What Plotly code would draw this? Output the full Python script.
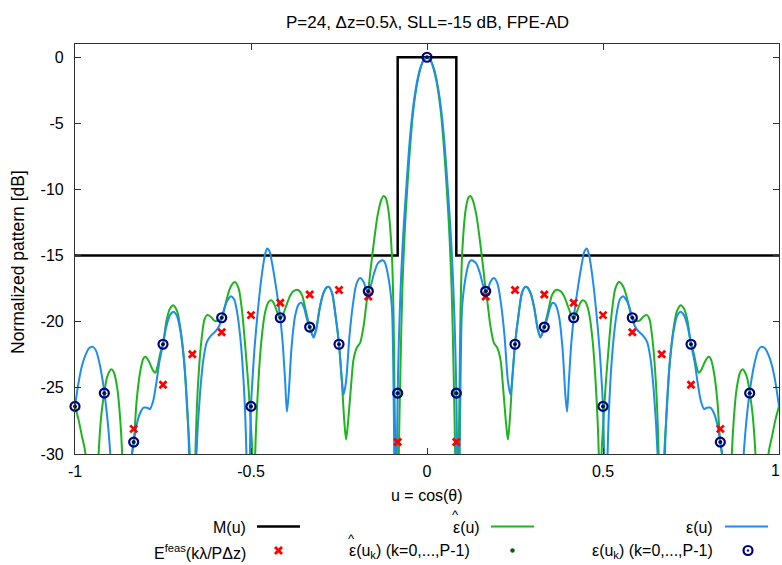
import plotly.graph_objects as go

# ---------------- data ----------------
title_text = "P=24, \u0394z=0.5\u03bb, SLL=-15 dB, FPE-AD"

# Mask M(u)
mask_u = [-1.0, -0.0833, -0.0833, 0.0833, 0.0833, 1.0]
mask_db = [-15, -15, 0, 0, -15, -15]

# epsilon(u)  (blue curve)
blue_u = [
    -1.000, -0.990, -0.980, -0.970, -0.960, -0.949, -0.940, -0.930, -0.920, -0.910,
    -0.900, -0.890, -0.870, -0.850, -0.838, -0.833, -0.825, -0.815, -0.805, -0.795,
    -0.787, -0.778, -0.770, -0.760, -0.750, -0.740, -0.730, -0.720, -0.710, -0.700,
    -0.690, -0.680, -0.676, -0.666, -0.655, -0.645, -0.635, -0.625, -0.612, -0.600,
    -0.590, -0.583, -0.575, -0.565, -0.557, -0.548, -0.540, -0.530, -0.520, -0.513,
    -0.507, -0.503, -0.500, -0.495, -0.490, -0.480, -0.470, -0.460, -0.454, -0.447,
    -0.440, -0.430, -0.417, -0.410, -0.403, -0.398, -0.393, -0.385, -0.375, -0.365,
    -0.357, -0.350, -0.340, -0.333, -0.322, -0.315, -0.305, -0.295, -0.285, -0.279,
    -0.270, -0.260, -0.250, -0.243, -0.237, -0.230, -0.220, -0.210, -0.200, -0.190,
    -0.180, -0.172, -0.167, -0.160, -0.150, -0.140, -0.130, -0.126, -0.120, -0.110,
    -0.100, -0.096, -0.093, -0.088, -0.0855, -0.0833, -0.080, -0.075, -0.070, -0.065,
    -0.060, -0.050, -0.040, -0.030, -0.020, -0.010,
    0.000,
    0.010, 0.020, 0.030, 0.040, 0.050, 0.060, 0.065, 0.070, 0.075, 0.080,
    0.0833, 0.0855, 0.088, 0.093, 0.096, 0.100, 0.110, 0.120, 0.126, 0.130,
    0.140, 0.150, 0.160, 0.167, 0.172, 0.180, 0.190, 0.200, 0.210, 0.220,
    0.230, 0.237, 0.243, 0.250, 0.260, 0.270, 0.279, 0.285, 0.295, 0.305,
    0.315, 0.322, 0.333, 0.340, 0.350, 0.357, 0.365, 0.375, 0.385, 0.393,
    0.398, 0.403, 0.410, 0.417, 0.430, 0.440, 0.447, 0.454, 0.460, 0.470,
    0.480, 0.490, 0.495, 0.500, 0.503, 0.507, 0.513, 0.520, 0.530, 0.540,
    0.548, 0.557, 0.565, 0.575, 0.583, 0.590, 0.600, 0.612, 0.625, 0.635,
    0.645, 0.655, 0.666, 0.676, 0.680, 0.690, 0.700, 0.710, 0.720, 0.730,
    0.740, 0.750, 0.760, 0.770, 0.778, 0.787, 0.795, 0.805, 0.815, 0.825,
    0.833, 0.838, 0.850, 0.870, 0.890, 0.900, 0.910, 0.920, 0.930, 0.940,
    0.949, 0.960, 0.970, 0.980, 0.990, 1.000,
]
blue_db = [
    -26.4, -24.6, -23.3, -22.5, -22.0, -21.9, -22.2, -23.2, -24.7, -26.8,
    -29.9, -35.0, -45.0, -35.0, -30.0, -29.1, -27.8, -26.9, -26.5, -26.5,
    -26.6, -26.0, -24.8, -23.0, -21.7, -20.3, -19.5, -19.25, -19.6, -20.8,
    -23.0, -27.0, -30.0, -45.0, -30.0, -25.5, -22.8, -21.5, -21.0, -20.7,
    -20.3, -19.7, -18.9, -18.3, -18.07, -18.3, -19.2, -21.3, -25.0, -30.0,
    -45.0, -30.0, -26.4, -24.0, -22.0, -19.0, -16.6, -14.9, -14.46, -14.7,
    -15.6, -17.2, -19.7, -21.6, -24.5, -26.8, -25.5, -22.0, -19.6, -18.7,
    -18.57, -18.9, -19.9, -20.4, -21.2, -20.6, -19.0, -17.9, -17.4, -17.36,
    -17.8, -19.5, -21.7, -24.0, -25.5, -24.5, -21.0, -18.6, -17.1, -16.7,
    -17.0, -17.6, -17.7, -17.3, -16.3, -15.6, -15.37, -15.35, -15.5, -16.6,
    -18.8, -23.0, -30.0, -45.0, -30.0, -25.4, -21.5, -17.5, -14.6, -12.3,
    -10.3, -6.6, -3.9, -2.1, -0.9, -0.23,
    0.0,
    -0.23, -0.9, -2.1, -3.9, -6.6, -10.3, -12.3, -14.6, -17.5, -21.5,
    -25.4, -30.0, -45.0, -30.0, -23.0, -18.8, -16.6, -15.5, -15.35, -15.37,
    -15.6, -16.3, -17.3, -17.7, -17.6, -17.0, -16.7, -17.1, -18.6, -21.0,
    -24.5, -25.5, -24.0, -21.7, -19.5, -17.8, -17.36, -17.4, -17.9, -19.0,
    -20.6, -21.2, -20.4, -19.9, -18.9, -18.57, -18.7, -19.6, -22.0, -25.5,
    -26.8, -24.5, -21.6, -19.7, -17.2, -15.6, -14.7, -14.46, -14.9, -16.6,
    -19.0, -22.0, -24.0, -26.4, -30.0, -45.0, -30.0, -25.0, -21.3, -19.2,
    -18.3, -18.07, -18.3, -18.9, -19.7, -20.3, -20.7, -21.0, -21.5, -22.8,
    -25.5, -30.0, -45.0, -30.0, -27.0, -23.0, -20.8, -19.6, -19.25, -19.5,
    -20.3, -21.7, -23.0, -24.8, -26.0, -26.6, -26.5, -26.5, -26.9, -27.8,
    -29.1, -30.0, -35.0, -45.0, -35.0, -29.9, -26.8, -24.7, -23.2, -22.2,
    -21.9, -22.0, -22.5, -23.3, -24.6, -26.4,
]

# epsilon-hat(u)  (green curve)
green_u = [
    -1.000, -0.990, -0.980, -0.970, -0.952, -0.933, -0.925, -0.917, -0.910, -0.903,
    -0.897, -0.890, -0.880, -0.872, -0.866, -0.852, -0.838, -0.833, -0.825, -0.815,
    -0.806, -0.800, -0.790, -0.780, -0.772, -0.765, -0.758, -0.750, -0.740, -0.730,
    -0.721, -0.710, -0.700, -0.690, -0.680, -0.674, -0.666, -0.658, -0.650, -0.640,
    -0.632, -0.625, -0.615, -0.605, -0.597, -0.583, -0.570, -0.560, -0.550, -0.545,
    -0.535, -0.525, -0.515, -0.507, -0.500, -0.496, -0.492, -0.488, -0.480, -0.470,
    -0.460, -0.450, -0.442, -0.435, -0.425, -0.417, -0.410, -0.400, -0.390, -0.380,
    -0.366, -0.355, -0.345, -0.333, -0.324, -0.315, -0.305, -0.295, -0.285, -0.279,
    -0.270, -0.260, -0.250, -0.242, -0.235, -0.230, -0.225, -0.215, -0.209, -0.200,
    -0.190, -0.180, -0.172, -0.167, -0.160, -0.150, -0.140, -0.130, -0.124, -0.118,
    -0.110, -0.100, -0.095, -0.092, -0.090, -0.085, -0.080, -0.075, -0.070, -0.065,
    -0.060, -0.050, -0.040, -0.030, -0.020, -0.010,
    0.000,
    0.010, 0.020, 0.030, 0.040, 0.050, 0.060, 0.065, 0.070, 0.075, 0.080,
    0.085, 0.090, 0.092, 0.095, 0.100, 0.110, 0.118, 0.124, 0.130, 0.140,
    0.150, 0.160, 0.167, 0.172, 0.180, 0.190, 0.200, 0.209, 0.215, 0.225,
    0.230, 0.235, 0.242, 0.250, 0.260, 0.270, 0.279, 0.285, 0.295, 0.305,
    0.315, 0.324, 0.333, 0.345, 0.355, 0.366, 0.380, 0.390, 0.400, 0.410,
    0.417, 0.425, 0.435, 0.442, 0.450, 0.460, 0.470, 0.480, 0.488, 0.492,
    0.496, 0.500, 0.507, 0.515, 0.525, 0.535, 0.545, 0.550, 0.560, 0.570,
    0.583, 0.597, 0.605, 0.615, 0.625, 0.632, 0.640, 0.650, 0.658, 0.666,
    0.674, 0.680, 0.690, 0.700, 0.710, 0.721, 0.730, 0.740, 0.750, 0.758,
    0.765, 0.772, 0.780, 0.790, 0.800, 0.806, 0.815, 0.825, 0.833, 0.838,
    0.852, 0.866, 0.872, 0.880, 0.890, 0.897, 0.903, 0.910, 0.917, 0.925,
    0.933, 0.952, 0.970, 0.980, 0.990, 1.000,
]
green_db = [
    -26.4, -27.4, -28.7, -30.0, -45.0, -30.0, -27.0, -25.4, -24.3, -23.8,
    -23.6, -23.8, -25.0, -27.2, -30.0, -45.0, -30.0, -29.1, -26.0, -23.8,
    -22.8, -22.65, -23.0, -23.6, -23.86, -23.3, -22.4, -21.7, -19.9, -19.0,
    -18.75, -19.2, -20.6, -23.0, -27.3, -30.0, -45.0, -30.0, -24.5, -21.2,
    -19.8, -19.5, -19.6, -19.9, -19.95, -19.7, -18.4, -17.5, -17.05, -17.0,
    -17.5, -19.3, -22.3, -25.0, -28.0, -30.0, -45.0, -30.0, -25.0, -21.3,
    -19.3, -18.5, -18.37, -18.6, -19.3, -19.7, -19.5, -18.8, -18.1, -17.7,
    -17.6, -18.0, -19.1, -20.4, -21.1, -20.6, -19.0, -17.9, -17.4, -17.36,
    -17.8, -19.5, -21.7, -24.5, -27.5, -28.9, -27.8, -24.6, -22.9, -22.0,
    -21.6, -20.3, -18.6, -17.7, -16.0, -13.8, -11.9, -10.8, -10.5, -10.6,
    -11.5, -14.8, -19.5, -26.0, -30.0, -45.0, -30.0, -23.0, -17.5, -14.2,
    -11.6, -7.5, -4.3, -2.3, -1.0, -0.25,
    0.0,
    -0.25, -1.0, -2.3, -4.3, -7.5, -11.6, -14.2, -17.5, -23.0, -30.0,
    -45.0, -30.0, -26.0, -19.5, -14.8, -11.5, -10.6, -10.5, -10.8, -11.9,
    -13.8, -16.0, -17.7, -18.6, -20.3, -21.6, -22.0, -22.9, -24.6, -27.8,
    -28.9, -27.5, -24.5, -21.7, -19.5, -17.8, -17.36, -17.4, -17.9, -19.0,
    -20.6, -21.1, -20.4, -19.1, -18.0, -17.6, -17.7, -18.1, -18.8, -19.5,
    -19.7, -19.3, -18.6, -18.37, -18.5, -19.3, -21.3, -25.0, -30.0, -45.0,
    -30.0, -28.0, -25.0, -22.3, -19.3, -17.5, -17.0, -17.05, -17.5, -18.4,
    -19.7, -19.95, -19.9, -19.6, -19.5, -19.8, -21.2, -24.5, -30.0, -45.0,
    -30.0, -27.3, -23.0, -20.6, -19.2, -18.75, -19.0, -19.9, -21.7, -22.4,
    -23.3, -23.86, -23.6, -23.0, -22.65, -22.8, -23.8, -26.0, -29.1, -30.0,
    -45.0, -30.0, -27.2, -25.0, -23.8, -23.6, -23.8, -24.3, -25.4, -27.0,
    -30.0, -45.0, -30.0, -28.7, -27.4, -26.4,
]

# E^feas(k lambda / P dz)  (red crosses)
feas_u = [-0.8333, -0.75, -0.6667, -0.5833, -0.5, -0.4167, -0.3333, -0.25, -0.1667, -0.0833,
          0.0833, 0.1667, 0.25, 0.3333, 0.4167, 0.5, 0.5833, 0.6667, 0.75, 0.8333]
feas_db = [-28.1, -24.77, -22.45, -20.8, -19.5, -18.57, -17.94, -17.6, -18.1, -29.1,
           -29.1, -18.1, -17.6, -17.94, -18.57, -19.5, -20.8, -22.45, -24.77, -28.1]

# samples u_k (k=0..P-1) visible in the window
uk = [-1.0, -0.9167, -0.8333, -0.75, -0.5833, -0.5, -0.4167, -0.3333, -0.25, -0.1667, -0.0833,
      0.0, 0.0833, 0.1667, 0.25, 0.3333, 0.4167, 0.5, 0.5833, 0.75, 0.8333, 0.9167]
eps_hat_uk = [-26.4, -25.4, -29.1, -21.7, -19.7, -26.4, -19.7, -20.4, -21.7, -17.7, -25.4,
              0.0, -25.4, -17.7, -21.7, -20.4, -19.7, -26.4, -19.7, -21.7, -29.1, -25.4]
eps_uk = [-26.4, -25.4, -29.1, -21.7, -19.7, -26.4, -19.7, -20.4, -21.7, -17.7, -25.4,
          0.0, -25.4, -17.7, -21.7, -20.4, -19.7, -26.4, -19.7, -21.7, -29.1, -25.4]

x_tickvals = [-1, -0.5, 0, 0.5]
x_ticktext = ["-1", "-0.5", "0", "0.5"]
x_last_tick_text = "1"
y_tickvals = [-30, -25, -20, -15, -10, -5, 0]
y_ticktext = ["-30", "-25", "-20", "-15", "-10", "-5", "0"]

# ---------------- styling ----------------
W, H = 782, 565
L, R, T, B = 75, 3, 44, 111
PW, PH = W - L - R, H - T - B
FONT = "Liberation Sans, Arial, Helvetica, sans-serif"
FS = 16
C_BLACK = "#000000"
C_GREEN = "#1db41d"
C_BLUE = "#1e8cf0"
C_RED = "#ff0000"
C_DKGREEN = "#006400"
C_NAVY = "#00007f"


def px(xp):
    return (xp - L) / PW


def py(yp):
    return (H - B - yp) / PH


def txt(text, x, y, xanchor="center", angle=0, size=FS):
    return dict(text=text, x=px(x), y=py(y), xref="paper", yref="paper",
                showarrow=False, xanchor=xanchor, yanchor="middle", textangle=angle,
                font=dict(size=size, color="black", family=FONT))


fig = go.Figure()
fig.add_trace(go.Scatter(x=mask_u, y=mask_db, mode="lines",
                         line=dict(color=C_BLACK, width=2.5), showlegend=False))
fig.add_trace(go.Scatter(x=green_u, y=green_db, mode="lines",
                         line=dict(color=C_GREEN, width=2, shape="spline", smoothing=0.8),
                         showlegend=False))
fig.add_trace(go.Scatter(x=blue_u, y=blue_db, mode="lines",
                         line=dict(color=C_BLUE, width=2, shape="spline", smoothing=0.8),
                         showlegend=False))
fig.add_trace(go.Scatter(x=feas_u, y=feas_db, mode="markers", cliponaxis=False,
                         marker=dict(symbol="x-thin", size=7, color=C_RED,
                                     line=dict(color=C_RED, width=2.8)),
                         showlegend=False))
fig.add_trace(go.Scatter(x=uk, y=eps_hat_uk, mode="markers", cliponaxis=False,
                         marker=dict(symbol="circle", size=4, color=C_DKGREEN),
                         showlegend=False))
fig.add_trace(go.Scatter(x=uk, y=eps_uk, mode="markers", cliponaxis=False,
                         marker=dict(symbol="circle-open-dot", size=9, color=C_NAVY,
                                     line=dict(color=C_NAVY, width=2.2)),
                         showlegend=False))

annotations = []
shapes = []

# title and axis labels
annotations.append(txt(title_text, 427, 23, size=17))
annotations.append(txt("u = cos(\u03b8)", 427, 495))
annotations.append(txt("Normalized pattern [dB]", 18, 262, angle=-90, size=17.5))
# last x tick label (kept inside the page)
annotations.append(txt(x_last_tick_text, 782, 470, xanchor="right"))

# custom legend (gnuplot style: text right-aligned, sample to its right)
row_y = [527.5, 551.5]
col_text_right = [248, 481, 715]
col_sample = [(257, 300), (491, 534), (725, 768)]

annotations.append(txt("M(u)", col_text_right[0], row_y[0], xanchor="right"))
annotations.append(txt("\u03b5(u)", col_text_right[2], row_y[0], xanchor="right"))
annotations.append(txt("E<sup>feas</sup>(k\u03bb/P\u0394z)", col_text_right[0], row_y[1],
                       xanchor="right"))
annotations.append(txt("\u03b5(u<sub>k</sub>) (k=0,...,P-1)", col_text_right[2], row_y[1],
                       xanchor="right"))
# epsilon-hat entries: text left-aligned at the reference start, hat drawn above the epsilon
hat_starts = [(451, row_y[0], "\u03b5(u)"),
              (347, row_y[1], "\u03b5(u<sub>k</sub>) (k=0,...,P-1)")]
for xs, yr, t in hat_starts:
    annotations.append(txt(t, xs, yr, xanchor="left"))
    annotations.append(txt("^", xs + 4.5, yr - 13.5, size=13))

line_colors = [C_BLACK, C_GREEN, C_BLUE]
line_widths = [2.5, 2, 2]
for c in range(3):
    x0, x1 = col_sample[c]
    shapes.append(dict(type="line", xref="paper", yref="paper",
                       x0=px(x0), x1=px(x1), y0=py(row_y[0] - 1), y1=py(row_y[0] - 1),
                       line=dict(color=line_colors[c], width=line_widths[c])))

# row 2 symbols
cx = (col_sample[0][0] + col_sample[0][1]) / 2
cy = row_y[1] - 1
for dx in (-1, 1):
    shapes.append(dict(type="line", xref="paper", yref="paper",
                       x0=px(cx - 3.5), x1=px(cx + 3.5), y0=py(cy - 3.5 * dx), y1=py(cy + 3.5 * dx),
                       line=dict(color=C_RED, width=2.8)))
cx = (col_sample[1][0] + col_sample[1][1]) / 2
shapes.append(dict(type="circle", xref="paper", yref="paper",
                   x0=px(cx - 2), x1=px(cx + 2), y0=py(cy - 2), y1=py(cy + 2),
                   fillcolor=C_DKGREEN, line=dict(color=C_DKGREEN, width=0.5)))
cx = (col_sample[2][0] + col_sample[2][1]) / 2 + 1.5
shapes.append(dict(type="circle", xref="paper", yref="paper",
                   x0=px(cx - 4.5), x1=px(cx + 4.5), y0=py(cy - 4.5), y1=py(cy + 4.5),
                   line=dict(color=C_NAVY, width=2.2)))
shapes.append(dict(type="circle", xref="paper", yref="paper",
                   x0=px(cx - 1), x1=px(cx + 1), y0=py(cy - 1), y1=py(cy + 1),
                   fillcolor=C_NAVY, line=dict(color=C_NAVY, width=0.5)))

axis_common = dict(showline=True, linecolor="#303030", linewidth=1.2, mirror="ticks",
                   ticks="inside", ticklen=6, tickwidth=1, tickcolor="#303030",
                   showgrid=False, zeroline=False,
                   tickfont=dict(size=FS, color="black", family=FONT))

fig.update_layout(
    width=W, height=H,
    margin=dict(l=L, r=R, t=T, b=B, pad=0),
    paper_bgcolor="white", plot_bgcolor="white",
    showlegend=False,
    xaxis=dict(range=[-1, 1], tickvals=x_tickvals + [1], ticktext=x_ticktext + [""],
               ticklabelstandoff=3, **axis_common),
    yaxis=dict(range=[-30, 1], tickvals=y_tickvals, ticktext=y_ticktext,
               ticklabelstandoff=7, **axis_common),
    annotations=annotations,
    shapes=shapes,
)

fig.write_html("out.html")
